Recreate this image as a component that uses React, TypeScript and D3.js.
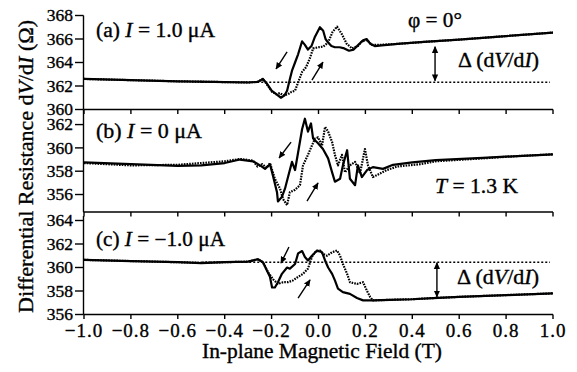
import React from 'react';
import * as d3 from 'd3';

// ---------- data (field in T, resistance in Ω) ----------
// Panel (a) I = 1.0 µA
const fieldA_down = [-1.0, -0.8, -0.6, -0.45, -0.3, -0.26, -0.237, -0.22, -0.2, -0.18, -0.16, -0.145, -0.134, -0.122, -0.113, -0.1, -0.087, -0.07, -0.058, -0.045, -0.03, -0.015, 0.006, 0.02, 0.03, 0.041, 0.055, 0.07, 0.09, 0.11, 0.13, 0.15, 0.17, 0.19, 0.205, 0.22, 0.24, 0.27, 0.35, 0.45, 0.6, 0.8, 1.0];
const resA_down = [362.6, 362.5, 362.4, 362.35, 362.3, 362.35, 362.6, 362.2, 361.6, 361.3, 361.0, 361.2, 361.6, 362.6, 363.3, 364.0, 364.7, 365.8, 365.5, 365.1, 365.4, 366.2, 367.0, 366.7, 366.0, 365.7, 365.4, 365.3, 365.3, 365.2, 365.0, 365.1, 365.5, 365.9, 366.0, 365.6, 365.4, 365.45, 365.6, 365.75, 365.95, 366.25, 366.55];
const fieldA_up = [-1.0, -0.8, -0.6, -0.45, -0.3, -0.26, -0.237, -0.215, -0.198, -0.18, -0.164, -0.15, -0.13, -0.115, -0.1, -0.087, -0.07, -0.053, -0.036, -0.023, 0.0, 0.02, 0.041, 0.06, 0.079, 0.1, 0.12, 0.143, 0.168, 0.185, 0.207, 0.228, 0.26, 0.35, 0.45, 0.6, 0.8, 1.0];
const resA_up = [362.6, 362.5, 362.4, 362.35, 362.3, 362.35, 362.6, 362.0, 361.5, 361.3, 361.4, 361.2, 361.3, 361.5, 361.6, 362.3, 363.2, 363.6, 364.4, 365.2, 365.3, 365.35, 365.7, 366.6, 367.05, 366.4, 365.6, 365.2, 365.4, 365.8, 365.9, 365.5, 365.5, 365.6, 365.75, 365.95, 366.25, 366.55];

// Panel (b) I = 0 µA
const fieldB_down = [-1.0, -0.8, -0.6, -0.5, -0.4, -0.335, -0.279, -0.249, -0.228, -0.207, -0.194, -0.177, -0.173, -0.156, -0.143, -0.13, -0.113, -0.1, -0.087, -0.07, -0.058, -0.045, -0.032, -0.023, -0.002, 0.019, 0.041, 0.058, 0.07, 0.092, 0.104, 0.122, 0.134, 0.156, 0.168, 0.185, 0.207, 0.232, 0.275, 0.318, 0.4, 0.5, 0.7, 0.85, 1.0];
const resB_down = [358.75, 358.6, 358.45, 358.5, 358.7, 359.0, 358.85, 358.5, 358.2, 358.6, 357.6, 356.2, 355.4, 355.8, 356.5, 357.5, 358.8, 358.1, 359.6, 361.6, 362.5, 361.4, 362.1, 360.8, 360.4, 359.9, 359.1, 357.9, 357.1, 357.35, 358.5, 359.8, 357.35, 356.8, 358.5, 357.5, 358.1, 358.35, 358.2, 358.55, 358.75, 358.95, 359.15, 359.3, 359.45];
const fieldB_up = [-1.0, -0.8, -0.6, -0.5, -0.4, -0.335, -0.279, -0.26, -0.24, -0.22, -0.207, -0.186, -0.164, -0.151, -0.134, -0.122, -0.1, -0.079, -0.066, -0.045, -0.028, -0.015, -0.002, 0.015, 0.028, 0.041, 0.058, 0.07, 0.083, 0.1, 0.113, 0.134, 0.156, 0.177, 0.198, 0.211, 0.232, 0.262, 0.292, 0.335, 0.433, 0.5, 0.7, 0.85, 1.0];
const resB_up = [358.7, 358.5, 358.55, 358.7, 358.85, 359.05, 358.9, 358.4, 358.6, 358.3, 358.7, 357.35, 356.5, 355.6, 355.1, 356.2, 356.4, 356.8, 358.5, 359.4, 360.2, 360.8, 360.9, 360.2, 361.8, 361.4, 360.5, 359.4, 358.5, 359.4, 357.9, 358.5, 358.8, 357.8, 359.9, 358.5, 357.5, 357.8, 358.1, 358.4, 358.6, 358.85, 359.1, 359.3, 359.45];

// Panel (c) I = -1.0 µA
const fieldC_down = [-1.0, -0.8, -0.6, -0.5, -0.4, -0.3, -0.258, -0.237, -0.22, -0.207, -0.198, -0.186, -0.173, -0.156, -0.134, -0.122, -0.1, -0.087, -0.07, -0.058, -0.045, -0.028, -0.006, 0.015, 0.028, 0.041, 0.058, 0.07, 0.083, 0.104, 0.134, 0.164, 0.19, 0.232, 0.305, 0.4, 0.489, 0.6, 0.8, 1.0];
const resC_down = [360.65, 360.55, 360.45, 360.38, 360.45, 360.5, 360.7, 360.45, 359.75, 359.2, 358.3, 358.3, 358.75, 359.46, 360.0, 359.9, 360.3, 361.2, 361.4, 360.9, 360.6, 361.0, 361.45, 361.3, 360.6, 360.0, 359.46, 358.9, 358.2, 357.9, 357.76, 357.4, 357.2, 357.2, 357.25, 357.3, 357.4, 357.5, 357.65, 357.8];
const fieldC_up = [-1.0, -0.8, -0.6, -0.5, -0.4, -0.3, -0.258, -0.237, -0.215, -0.194, -0.173, -0.151, -0.13, -0.109, -0.087, -0.066, -0.045, -0.028, -0.015, 0.006, 0.019, 0.036, 0.058, 0.079, 0.092, 0.104, 0.122, 0.134, 0.164, 0.19, 0.207, 0.22, 0.232, 0.305, 0.4, 0.489, 0.6, 0.8, 1.0];
const resC_up = [360.65, 360.55, 360.45, 360.4, 360.45, 360.5, 360.7, 360.45, 359.6, 359.0, 358.6, 358.75, 358.75, 358.9, 359.2, 359.46, 359.9, 360.9, 361.3, 361.45, 361.16, 361.0, 361.3, 361.45, 361.0, 360.3, 359.46, 358.75, 358.6, 358.75, 358.0, 357.5, 357.2, 357.25, 357.3, 357.4, 357.5, 357.65, 357.8];

// reference levels (dotted lines) and tick values
const refLevelA = 362.32;
const refLevelC = 360.45;
const xTicks = [-1.0, -0.8, -0.6, -0.4, -0.2, 0.0, 0.2, 0.4, 0.6, 0.8, 1.0];
const yTicksA = [360, 362, 364, 366, 368];
const yTicksB = [356, 358, 360, 362];
const yTicksC = [356, 358, 360, 362, 364];

const FONT = "'Liberation Serif', 'Times New Roman', serif";
const TXT = { fill: '#000', stroke: '#000', strokeWidth: 0.35 };

const x = d3.scaleLinear().domain([-1, 1]).range([84, 553]);
const yA = d3.scaleLinear().domain([360, 368]).range([109.5, 15.5]);
const yB = d3.scaleLinear().domain([354.5, 363.25]).range([212, 110]);
const yC = d3.scaleLinear().domain([356, 364]).range([314.5, 220.5]);

function series(xs: number[], ys: number[]) {
  return xs.map((v, i) => [v, ys[i]] as [number, number]);
}

const Curve = ({ xs, ys, y, dashed }: any) => {
  const line = d3.line<[number, number]>().x(d => x(d[0])).y(d => y(d[1]));
  return (
    <path
      d={line(series(xs, ys)) || ''}
      fill="none"
      stroke="#000"
      strokeWidth={2.2}
      strokeDasharray={dashed ? '1.6 1.1' : undefined}
      strokeLinejoin="round"
    />
  );
};

const Arrow = ({ x1, y1, x2, y2, y, both }: any) => (
  <line
    x1={x(x1)} y1={y(y1)} x2={x(x2)} y2={y(y2)}
    stroke="#000" strokeWidth={1.4}
    markerEnd="url(#ah)" markerStart={both ? 'url(#ah)' : undefined}
  />
);

const YAxis = ({ y, ticks, top, bottom }: any) => (
  <g>
    <line x1={83.5} x2={83.5} y1={top} y2={bottom} stroke="#000" strokeWidth={1.4} />
    {ticks.map((t: number) => (
      <g key={t}>
        <line x1={75} x2={83.5} y1={y(t)} y2={y(t)} stroke="#000" strokeWidth={1.4} />
        <text x={73} y={y(t)} dy="0.33em" textAnchor="end" fontSize={17.5} fontFamily={FONT} {...TXT}>{t}</text>
      </g>
    ))}
  </g>
);

const XAxis = ({ yPos, labels }: any) => (
  <g>
    <line x1={83.5} x2={553} y1={yPos} y2={yPos} stroke="#000" strokeWidth={1.4} />
    {xTicks.map(t => (
      <g key={t}>
        <line x1={x(t)} x2={x(t)} y1={yPos} y2={yPos + 4.5} stroke="#000" strokeWidth={1.4} />
        {labels && (
          <text x={x(t)} y={337} textAnchor="middle" fontSize={19} fontFamily={FONT} letterSpacing={1} {...TXT}>
            {(t < 0 ? '\u2212' : '') + Math.abs(t).toFixed(1)}
          </text>
        )}
      </g>
    ))}
  </g>
);

const It = ({ children }: any) => <tspan fontStyle="italic">{children}</tspan>;

const Label = ({ x: px, y: py, w, size = 20, children, ...rest }: any) => (
  <text x={px} y={py} fontSize={size} textLength={w} lengthAdjust="spacingAndGlyphs" {...TXT} {...rest}>{children}</text>
);

export default function App() {
  return (
    <svg width={577} height={372} style={{ position: 'absolute', left: 0, top: 0, background: '#fff' }} fontFamily={FONT}>
      <defs>
        <marker id="ah" viewBox="0 0 10 10" refX={9} refY={5} markerWidth={5} markerHeight={5} orient="auto-start-reverse">
          <path d="M0,0.5 L10,5 L0,9.5 z" fill="#000" />
        </marker>
      </defs>
      <rect width={577} height={372} fill="#fff" />

      {/* axes */}
      <YAxis y={yA} ticks={yTicksA} top={15.5} bottom={109.5} />
      <YAxis y={yB} ticks={yTicksB} top={110} bottom={212} />
      <YAxis y={yC} ticks={yTicksC} top={216} bottom={314.5} />
      <XAxis yPos={109.5} />
      <XAxis yPos={212} />
      <XAxis yPos={314.5} labels />

      {/* dotted reference lines */}
      <line x1={x(-0.5)} x2={x(0.987)} y1={yA(refLevelA)} y2={yA(refLevelA)} stroke="#000" strokeWidth={1.5} strokeDasharray="2 2" />
      <line x1={x(-0.5)} x2={x(0.987)} y1={yC(refLevelC)} y2={yC(refLevelC)} stroke="#000" strokeWidth={1.5} strokeDasharray="2 2" />

      {/* curves */}
      <Curve xs={fieldA_up} ys={resA_up} y={yA} dashed />
      <Curve xs={fieldA_down} ys={resA_down} y={yA} />
      <Curve xs={fieldB_up} ys={resB_up} y={yB} dashed />
      <Curve xs={fieldB_down} ys={resB_down} y={yB} />
      <Curve xs={fieldC_up} ys={resC_up} y={yC} dashed />
      <Curve xs={fieldC_down} ys={resC_down} y={yC} />

      {/* sweep arrows */}
      <Arrow y={yA} x1={-0.134} y1={364.9} x2={-0.181} y2={363.45} />
      <Arrow y={yA} x1={-0.028} y1={362.5} x2={0.019} y2={364.04} />
      <Arrow y={yB} x1={-0.117} y1={360.5} x2={-0.168} y2={359.13} />
      <Arrow y={yB} x1={-0.049} y1={355.44} x2={-0.002} y2={356.99} />
      <Arrow y={yC} x1={-0.126} y1={361.74} x2={-0.16} y2={360.38} />
      <Arrow y={yC} x1={-0.087} y1={357.4} x2={-0.036} y2={358.94} />

      {/* delta arrows */}
      <Arrow y={yA} x1={0.497} y1={365.35} x2={0.497} y2={362.45} both />
      <Arrow y={yC} x1={0.505} y1={360.4} x2={0.505} y2={357.5} both />

      {/* annotations */}
      <Label x={96} y={37} w={119}>(a) <It>I</It> = 1.0 μA</Label>
      <Label x={408} y={27} w={54}>φ = 0°</Label>
      <Label x={458} y={67} w={81}>Δ (d<It>V</It>/d<It>I</It>)</Label>
      <Label x={96} y={138} w={106}>(b) <It>I</It> = 0 μA</Label>
      <Label x={435} y={193} w={83}><It>T</It> = 1.3 K</Label>
      <Label x={96} y={246} w={129}>(c) <It>I</It> = −1.0 μA</Label>
      <Label x={457} y={284} w={82}>Δ (d<It>V</It>/d<It>I</It>)</Label>

      {/* axis titles */}
      <Label x={202} y={358} w={240}>In-plane Magnetic Field (T)</Label>
      <Label x={0} y={0} w={293} size={22} transform="translate(33,313) rotate(-90)">
        Differential Resistance d<It>V</It>/d<It>I</It> (Ω)
      </Label>
    </svg>
  );
}
